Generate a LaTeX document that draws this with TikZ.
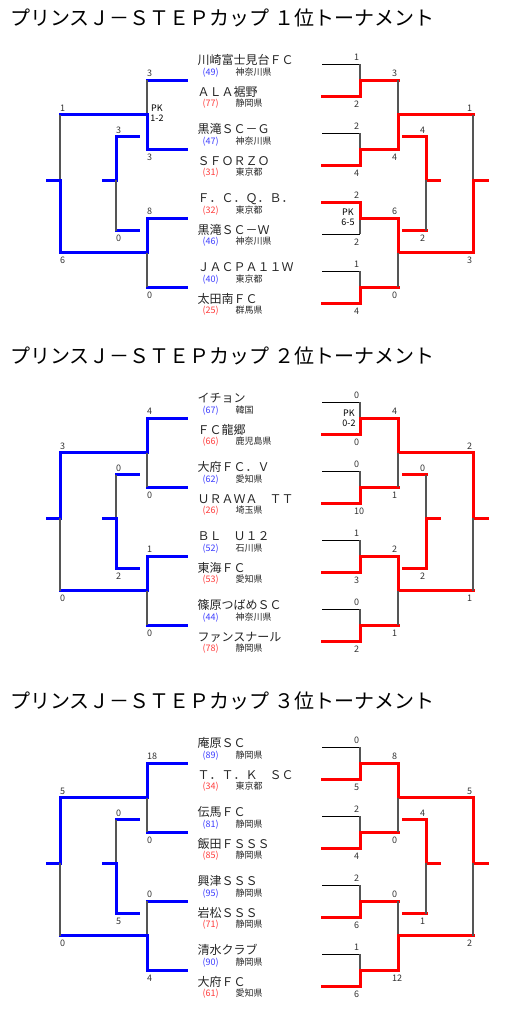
\documentclass[tikz,border=0pt]{standalone}
\usepackage{fontspec}
\setmainfont{Noto Sans CJK JP}
\definecolor{WinBlue}{RGB}{0,0,255}
\definecolor{WinRed}{RGB}{255,0,0}
\definecolor{LoseGray}{RGB}{85,85,85}
\definecolor{ScoreGray}{RGB}{51,51,51}
\definecolor{SeedBlue}{RGB}{60,60,255}
\definecolor{SeedRed}{RGB}{255,60,60}

\tikzset{
  win/.style={line width=3pt,line cap=rect},
  lose/.style={line width=1.5pt,draw=LoseGray},
  losestub/.style={line width=1pt,draw=black},
  score/.style={font=\fontsize{9}{10}\selectfont,text=ScoreGray,inner sep=0pt,anchor=base west},
  pk/.style={font=\fontsize{9}{10}\selectfont,align=center,inner sep=0pt},
  tourtitle/.style={font=\fontsize{20}{24}\selectfont,anchor=base west,inner sep=0pt},
  team/.style={font=\fontsize{12}{14}\selectfont,text=black!85,anchor=base west,inner sep=0pt},
  seed/.style={font=\fontsize{9}{10}\selectfont,anchor=base west,inner sep=0pt},
  pref/.style={font=\fontsize{9}{10}\selectfont,text=black!85,anchor=base west,inner sep=0pt},
}

\newcount\gameno
% one game: x, top y, split y, bottom y, winner (1 top / 2 bottom), colour, scores, label shift
\newcommand{\game}[9]{%
  \global\advance\gameno by 1
  \ifnum#5=1
    \draw[win,#6] (#1,#2) -- (#1,#3);
    \draw[lose] (#1,#3) -- (#1,#4);
  \else
    \draw[lose] (#1,#2) -- (#1,#3);
    \draw[win,#6] (#1,#3) -- (#1,#4);
  \fi
  \node[score] (up\the\gameno) at (#1+#9,#2-3.5) {#7};
  \node[score] (dn\the\gameno) at (#1+#9,#4+11) {#8};
}
% first round on the right: mid y, scores, winner
\newcommand{\rgame}[4]{%
  \ifnum#4=1
    \draw[win,WinRed] (322,#1-16) -- (360,#1-16);
    \draw[losestub] (322,#1+16) -- (360,#1+16);
  \else
    \draw[losestub] (322,#1-16) -- (360,#1-16);
    \draw[win,WinRed] (322,#1+16) -- (360,#1+16);
  \fi
  \game{360}{#1-16}{#1}{#1+16}{#4}{WinRed}{#2}{#3}{-6}
  \draw[win,WinRed] (360,#1) -- (398,#1);
}
% lines that every bracket has
\newcommand{\bracketlines}{%
  \foreach \m in {0,69,138,207} \draw[win,WinBlue] (147,\m) -- (186,\m);
  \foreach \m in {34.5,172.5} \draw[win,WinBlue] (60,\m) -- (147,\m);
  \draw[win,WinBlue] (47,100) -- (60,100);
  \foreach \m in {56.5,150.5} \draw[win,WinBlue] (116,\m) -- (138,\m);
  \draw[win,WinBlue] (103,100) -- (116,100);
  \foreach \m in {34.5,172.5} \draw[win,WinRed] (398,\m) -- (473,\m);
  \draw[win,WinRed] (473,100) -- (487,100);
  \foreach \m in {56.5,150.5} \draw[win,WinRed] (403,\m) -- (426,\m);
  \draw[win,WinRed] (426,100) -- (439,100);
}
% team names: prefix, list
\newcommand{\teamlist}[2]{%
  \foreach \k/\tname/\seed/\pref/\scol in {#2}{
    \pgfmathsetmacro\ty{69*floor(\k/2)-20+31.5*mod(\k,2)}
    \node[team] (#1n\k) at (197.5,\ty+4.5) {\tname};
    \node[seed,text=\scol] (#1s\k) at (202.5,\ty+15.3) {(\seed)};
    \node[pref] (#1p\k) at (235.5,\ty+15.3) {\pref};
  }
}

\begin{document}
\begin{tikzpicture}[x=1pt,y=-1pt]
\useasboundingbox[fill=white] (0,0) rectangle (510,1031);

% 1st place
\begin{scope}[shift={(0,80)}]
\node[tourtitle] (title1) at (10,-55) {プリンスＪ－ＳＴＥＰカップ １位トーナメント};
\teamlist{a}{0/川崎富士見台ＦＣ/49/神奈川県/SeedBlue, 1/ＡＬＡ裾野/77/静岡県/SeedRed,
  2/黒滝ＳＣ－Ｇ/47/神奈川県/SeedBlue, 3/ＳＦＯＲＺＯ/31/東京都/SeedRed,
  4/Ｆ．Ｃ．Ｑ．Ｂ．/32/東京都/SeedRed, 5/黒滝ＳＣ－Ｗ/46/神奈川県/SeedBlue,
  6/ＪＡＣＰＡ１１Ｗ/40/東京都/SeedBlue, 7/太田南ＦＣ/25/群馬県/SeedRed}
\bracketlines
\game{147}{0}{34.5}{69}{2}{WinBlue}{3}{3}{0}
\game{147}{138}{172.5}{207}{1}{WinBlue}{8}{0}{0}
\game{60}{34.5}{100}{172.5}{2}{WinBlue}{1}{6}{0}
\game{116}{56.5}{100}{150.5}{1}{WinBlue}{3}{0}{0}
\rgame{0}{1}{2}{2}
\rgame{69}{2}{4}{2}
\rgame{138}{2}{2}{1}
\rgame{207}{1}{4}{2}
\game{398}{0}{34.5}{69}{2}{WinRed}{3}{4}{-6}
\game{398}{138}{172.5}{207}{1}{WinRed}{6}{0}{-6}
\game{473}{34.5}{100}{172.5}{2}{WinRed}{1}{3}{-6}
\game{426}{56.5}{100}{150.5}{1}{WinRed}{4}{2}{-6}
\node[pk] (pk1a) at (157,33) {PK\\1-2};
\node[pk] (pk1b) at (348,137.5) {PK\\6-5};
\end{scope}

% 2nd place
\begin{scope}[shift={(0,418)}]
\node[tourtitle] (title2) at (10,-55) {プリンスＪ－ＳＴＥＰカップ ２位トーナメント};
\teamlist{b}{0/イチョン/67/韓国/SeedBlue, 1/ＦＣ龍郷/66/鹿児島県/SeedRed,
  2/大府ＦＣ．Ｖ/62/愛知県/SeedBlue, 3/ＵＲＡＷＡ　ＴＴ/26/埼玉県/SeedRed,
  4/ＢＬ　Ｕ１２/52/石川県/SeedBlue, 5/東海ＦＣ/53/愛知県/SeedRed,
  6/篠原つばめＳＣ/44/神奈川県/SeedBlue, 7/ファンスナール/78/静岡県/SeedRed}
\bracketlines
\game{147}{0}{34.5}{69}{1}{WinBlue}{4}{0}{0}
\game{147}{138}{172.5}{207}{1}{WinBlue}{1}{0}{0}
\game{60}{34.5}{100}{172.5}{1}{WinBlue}{3}{0}{0}
\game{116}{56.5}{100}{150.5}{2}{WinBlue}{0}{2}{0}
\rgame{0}{0}{0}{2}
\rgame{69}{0}{10}{2}
\rgame{138}{1}{3}{2}
\rgame{207}{0}{2}{2}
\game{398}{0}{34.5}{69}{1}{WinRed}{4}{1}{-6}
\game{398}{138}{172.5}{207}{1}{WinRed}{2}{1}{-6}
\game{473}{34.5}{100}{172.5}{1}{WinRed}{2}{1}{-6}
\game{426}{56.5}{100}{150.5}{2}{WinRed}{0}{2}{-6}
\node[pk] (pk2a) at (349,0) {PK\\0-2};
\end{scope}

% 3rd place
\begin{scope}[shift={(0,763)}]
\node[tourtitle] (title3) at (10,-55) {プリンスＪ－ＳＴＥＰカップ ３位トーナメント};
\teamlist{c}{0/庵原ＳＣ/89/静岡県/SeedBlue, 1/Ｔ．Ｔ．Ｋ　ＳＣ/34/東京都/SeedRed,
  2/伝馬ＦＣ/81/静岡県/SeedBlue, 3/飯田ＦＳＳＳ/85/静岡県/SeedRed,
  4/興津ＳＳＳ/95/静岡県/SeedBlue, 5/岩松ＳＳＳ/71/静岡県/SeedRed,
  6/清水クラブ/90/静岡県/SeedBlue, 7/大府ＦＣ/61/愛知県/SeedRed}
\bracketlines
\game{147}{0}{34.5}{69}{1}{WinBlue}{18}{0}{0}
\game{147}{138}{172.5}{207}{2}{WinBlue}{0}{4}{0}
\game{60}{34.5}{100}{172.5}{1}{WinBlue}{5}{0}{0}
\game{116}{56.5}{100}{150.5}{2}{WinBlue}{0}{5}{0}
\rgame{0}{0}{5}{2}
\rgame{69}{2}{4}{2}
\rgame{138}{2}{6}{2}
\rgame{207}{1}{6}{2}
\game{398}{0}{34.5}{69}{1}{WinRed}{8}{0}{-6}
\game{398}{138}{172.5}{207}{2}{WinRed}{0}{12}{-6}
\game{473}{34.5}{100}{172.5}{1}{WinRed}{5}{2}{-6}
\game{426}{56.5}{100}{150.5}{1}{WinRed}{4}{1}{-6}
\end{scope}
\end{tikzpicture}
\end{document}
